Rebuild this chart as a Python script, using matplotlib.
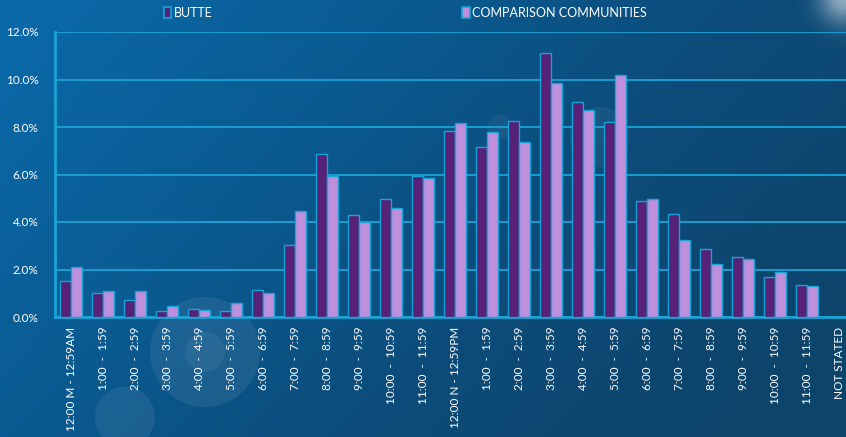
import numpy as np
import matplotlib
matplotlib.use("Agg")
import matplotlib.pyplot as plt
from matplotlib.colors import LinearSegmentedColormap
from matplotlib.patches import Ellipse

categories = ["12:00 M - 12:59AM", "1:00  -  1:59", "2:00  -  2:59", "3:00  -  3:59",
              "4:00  -  4:59", "5:00  -  5:59", "6:00  -  6:59", "7:00  -  7:59",
              "8:00  -  8:59", "9:00  -  9:59", "10:00  -  10:59", "11:00  -  11:59",
              "12:00 N - 12:59PM", "1:00  -  1:59", "2:00  -  2:59", "3:00  -  3:59",
              "4:00  -  4:59", "5:00  -  5:59", "6:00  -  6:59", "7:00  -  7:59",
              "8:00  -  8:59", "9:00  -  9:59", "10:00  -  10:59", "11:00  -  11:59",
              "NOT STATED"]
butte = [1.5, 1.0, 0.7, 0.25, 0.33, 0.25, 1.15, 3.05, 6.85, 4.3, 4.95, 5.95,
         7.85, 7.15, 8.25, 11.1, 9.07, 8.2, 4.9, 4.33, 2.88, 2.52, 1.67, 1.36, 0.0]
comparison = [2.1, 1.1, 1.1, 0.48, 0.3, 0.57, 1.0, 4.48, 5.93, 4.0, 4.6, 5.85,
              8.15, 7.78, 7.37, 9.87, 8.73, 10.2, 4.97, 3.23, 2.23, 2.45, 1.9, 1.3, 0.0]
yticks = [0, 2, 4, 6, 8, 10, 12]
ytick_labels = ["0.0%", "2.0%", "4.0%", "6.0%", "8.0%", "10.0%", "12.0%"]
series_names = ["BUTTE", "COMPARISON COMMUNITIES"]

W, H = 846, 437
fig = plt.figure(figsize=(W / 100, H / 100), dpi=100)
plt.rcParams['font.family'] = ['Lato', 'DejaVu Sans']

# background gradient
bg = fig.add_axes([0, 0, 1, 1], zorder=-10)
bg.set_axis_off()
yy, xx = np.mgrid[0:1:200j, 0:1:400j]
t = np.clip(0.75 * xx + 0.35 * yy, 0, 1)  # yy=0 is top in imshow
cmap = LinearSegmentedColormap.from_list("bgc", ["#0b6aaa", "#0a5c93", "#0c4c7a", "#0d446a"])
bg.imshow(t, cmap=cmap, aspect="auto", extent=[0, W, 0, H], vmin=0, vmax=1)
bg.set_xlim(0, W)
bg.set_ylim(0, H)
# faint lens flare circles (pixel coordinates, y from bottom)
for (cx, cy, r, a) in [(205, 85, 55, 0.07), (205, 85, 20, 0.06),
                       (125, 20, 30, 0.07), (600, 300, 30, 0.05),
                       (500, 310, 12, 0.05)]:
    bg.add_patch(Ellipse((cx, cy), 2 * r, 2 * r, color="white", alpha=a, lw=0))
# glow at top right
gy, gx = np.mgrid[0:H:150j, 0:W:300j]
glow = np.exp(-(((gx - 846) / 25.0) ** 2 + ((gy - 440) / 25.0) ** 2))
rgba = np.zeros(glow.shape + (4,))
rgba[..., :3] = 1.0
rgba[..., 3] = glow * 0.55
bg.imshow(rgba, extent=[0, W, 0, H], aspect="auto", origin="lower")

left = 55 / W
bottom = (H - 317) / H
height = (317 - 32) / H
width = (32 * 25) / W
ax = fig.add_axes([left, bottom, width, height])
ax.set_facecolor("none")

x = np.arange(len(categories))
bw = 0.355
edge = "#1aa3d6"
ax.bar(x - bw / 2, butte, width=bw, color="#552277", edgecolor=edge, linewidth=1.0, zorder=3,
       label=series_names[0])
ax.bar(x + bw / 2, comparison, width=bw, color="#be8fdd", edgecolor=edge, linewidth=1.0, zorder=3,
       label=series_names[1])

ax.set_xlim(-0.5, len(categories) - 0.5)
ax.set_ylim(0, 12)
ax.set_yticks(yticks)
ax.set_yticklabels(ytick_labels)
ax.yaxis.grid(True, color=edge, linewidth=1.3, zorder=0)
ax.set_axisbelow(True)
for s in ["top", "right"]:
    ax.spines[s].set_visible(False)
for s in ["left", "bottom"]:
    ax.spines[s].set_color(edge)
    ax.spines[s].set_linewidth(2)
ax.tick_params(axis="y", length=0, colors="white", labelsize=8.5, pad=12)
ax.set_xticks(x)
ax.set_xticklabels(categories, rotation=90, va="top", ha="center")
ax.tick_params(axis="x", length=0, colors="white", labelsize=8.5, pad=7)

leg = fig.legend(loc="upper left", bbox_to_anchor=(0.18, 1.01), ncol=2, frameon=False,
                 handlelength=0.6, handleheight=0.9, handletextpad=0.2, columnspacing=20,
                 fontsize=9)
for txt in leg.get_texts():
    txt.set_color("white")
for h in leg.legend_handles:
    h.set_edgecolor(edge)
    h.set_linewidth(1.2)

fig.savefig("out.png", dpi=100)
